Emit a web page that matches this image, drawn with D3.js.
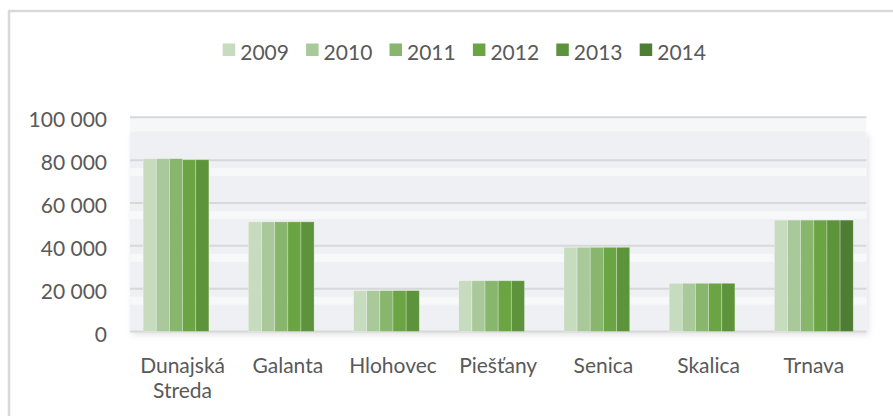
<!DOCTYPE html>
<html>
<head>
<meta charset="utf-8">
<script src="https://cdn.jsdelivr.net/npm/d3@7/dist/d3.min.js"></script>
<style>
  html, body { margin: 0; padding: 0; background: #fff; }
  svg { display: block; }
  text { font-family: Lato, "Open Sans", sans-serif; fill: #595959; }
</style>
</head>
<body>
<script>
const categories = ["Dunajská Streda", "Galanta", "Hlohovec", "Piešťany", "Senica", "Skalica", "Trnava"];
const years = ["2009", "2010", "2011", "2012", "2013", "2014"];
const v2009 = [80700, 51200, 19100, 23700, 39300, 22500, 52000];
const v2010 = [80700, 51200, 19100, 23700, 39300, 22500, 52000];
const v2011 = [80700, 51200, 19100, 23700, 39300, 22500, 52000];
const v2012 = [80200, 51200, 19100, 23700, 39300, 22500, 52000];
const v2013 = [80200, 51200, 19100, 23700, 39300, 22500, 52000];
const v2014 = [null, null, null, null, null, null, 52000];
const yTicks = [0, 20000, 40000, 60000, 80000, 100000];
const colors = ["#c7dbbf", "#aac99a", "#88b66d", "#6ba443", "#5d933a", "#4f7d33"];

const series = [v2009, v2010, v2011, v2012, v2013, v2014];
const W = 893, H = 416;
const plot = { left: 130, right: 866.4, top: 117.3, bottom: 331.5 };

const svg = d3.select("body").append("svg").attr("width", W).attr("height", H);
const defs = svg.append("defs");
const f = defs.append("filter").attr("id", "sh").attr("x", "-5%").attr("y", "-10%").attr("width", "110%").attr("height", "125%");
f.append("feDropShadow").attr("dx", 2).attr("dy", 3).attr("stdDeviation", 3)
  .attr("flood-color", "#000").attr("flood-opacity", 0.12);

// chart border
svg.append("rect").attr("x", 9).attr("y", 11).attr("width", 900).attr("height", 420)
  .attr("fill", "#fff").attr("stroke", "#d9d9d9").attr("stroke-width", 2.5);

const x0 = d3.scaleBand().domain(categories).range([plot.left, plot.right]).paddingInner(0).paddingOuter(0);
const bw = x0.bandwidth();
const x1 = d3.scaleBand().domain(years).range([bw / 8, bw * 7 / 8]);
const y = d3.scaleLinear().domain([0, 100000]).range([plot.bottom, plot.top]);

// plot background
svg.append("rect").attr("x", plot.left).attr("y", plot.top + 14).attr("width", plot.right - plot.left)
  .attr("height", plot.bottom - plot.top - 14).attr("fill", "#eef0f3").attr("filter", "url(#sh)");
svg.append("rect").attr("x", plot.left).attr("y", plot.top).attr("width", plot.right - plot.left)
  .attr("height", 14).attr("fill", "#f6f7f8");
yTicks.filter(t => t > 0 && t < 100000).forEach(t => {
  svg.append("rect").attr("x", plot.left).attr("y", y(t) + 8).attr("width", plot.right - plot.left)
    .attr("height", 8).attr("fill", "#f7f8f9");
});

// gridlines
svg.append("g").selectAll("line").data(yTicks).join("line")
  .attr("x1", plot.left).attr("x2", plot.right)
  .attr("y1", d => y(d)).attr("y2", d => y(d))
  .attr("stroke", "#d7d8da").attr("stroke-width", 2);

// bars
const groups = svg.append("g").selectAll("g").data(categories).join("g")
  .attr("transform", d => `translate(${x0(d)},0)`);
groups.selectAll("rect").data((c, ci) => years.map((yr, yi) => ({ yr, yi, v: series[yi][ci] })).filter(d => d.v != null))
  .join("rect")
  .attr("x", d => x1(d.yr)).attr("width", x1.bandwidth())
  .attr("y", d => y(d.v)).attr("height", d => y(0) - y(d.v))
  .attr("fill", d => colors[d.yi])
  .attr("stroke", "rgba(255,255,255,0.35)").attr("stroke-width", 0.8);

// y axis labels
const loc = d3.formatLocale({ decimal: ",", thousands: " ", grouping: [3], currency: ["", ""] });
const fmt = loc.format(",d");
svg.append("g").selectAll("text").data(yTicks).join("text")
  .attr("x", 107).attr("y", d => y(d) + 10)
  .attr("text-anchor", "end").attr("font-size", 21).text(d => fmt(d));

// x labels
const xl = svg.append("g").selectAll("text").data(categories).join("text")
  .attr("x", d => x0(d) + bw / 2).attr("y", 373)
  .attr("text-anchor", "middle").attr("font-size", 21);
xl.each(function (d) {
  const parts = d === "Dunajská Streda" ? ["Dunajská", "Streda"] : [d];
  const t = d3.select(this);
  parts.forEach((p, i) => {
    t.append("tspan").attr("x", x0(d) + bw / 2).attr("dy", i === 0 ? 0 : 24.7).text(p);
  });
});

// legend
const lg = svg.append("g").selectAll("g").data(years).join("g")
  .attr("transform", (d, i) => `translate(${222.7 + i * 83.4},0)`);
lg.append("rect").attr("x", 0).attr("y", 43.5).attr("width", 12.5).attr("height", 12.5)
  .attr("fill", (d, i) => colors[i]);
lg.append("text").attr("x", 17.5).attr("y", 60).attr("font-size", 21).text(d => d);
</script>
</body>
</html>
